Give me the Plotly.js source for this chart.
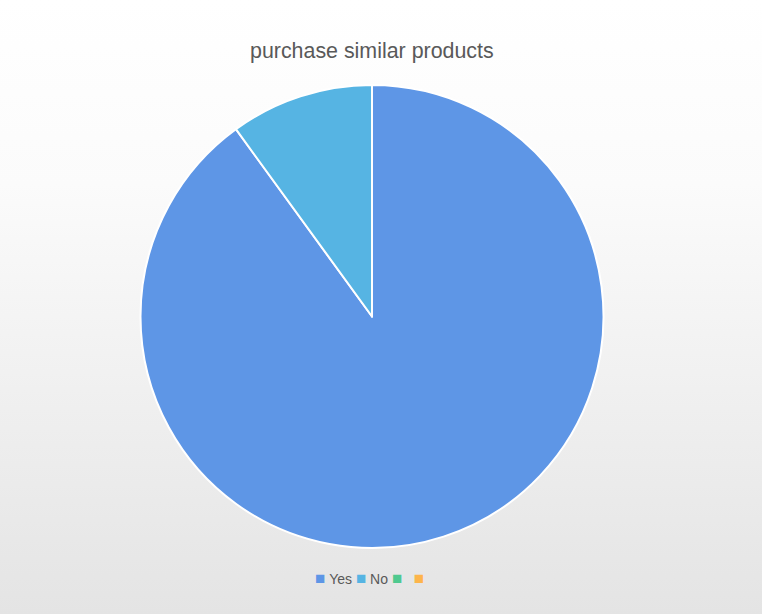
<!DOCTYPE html>
<html>
<head>
<meta charset="utf-8">
<script src="https://cdn.plot.ly/plotly-3.0.1.min.js"></script>
<style>
  html, body { margin: 0; padding: 0; }
  #chart { width: 762px; height: 614px; background: linear-gradient(to bottom, #ffffff 0%, #fbfbfb 30%, #e4e4e4 100%); }
</style>
</head>
<body>
<div id="chart"></div>
<script>
const categories = ["Yes", "No", "", ""];
const values = [90, 10, 0, 0];
const colors = ["#5e96e6", "#56b4e3", "#4fc98f", "#fdb54b"];
const chartTitle = "purchase similar products";

const pie = {
  type: "pie",
  labels: categories.map((c, i) => c || " ".repeat(i)),
  values: values,
  sort: false,
  direction: "clockwise",
  rotation: 0,
  textinfo: "none",
  hoverinfo: "label+value+percent",
  marker: { colors: colors, line: { color: "#ffffff", width: 2 } },
  showlegend: false
};

// compact legend built from the category/colour arrays
const legendText = categories.map((c, i) =>
  '<span style="color:' + colors[i] + ';font-size:17px">■</span>' + (c ? '\u00a0' + c : '\u00a0\u00a0')
).join('\u00a0');

const layout = {
  width: 762,
  height: 614,
  paper_bgcolor: "rgba(0,0,0,0)",
  plot_bgcolor: "rgba(0,0,0,0)",
  margin: { l: 0, r: 18, t: 85, b: 66 },
  title: { text: chartTitle, x: 0.488, xanchor: "center", y: 0.918, yanchor: "middle",
           font: { family: "Liberation Sans, Arial, sans-serif", size: 21.4, color: "#595959" } },
  showlegend: false,
  annotations: [{
    text: legendText, xref: "paper", yref: "paper", x: 0.502, y: -0.066,
    xanchor: "center", yanchor: "middle", showarrow: false,
    font: { family: "Liberation Sans, Arial, sans-serif", size: 14, color: "#595959" }
  }]
};

Plotly.newPlot("chart", [pie], layout, { displayModeBar: false });
</script>
</body>
</html>
